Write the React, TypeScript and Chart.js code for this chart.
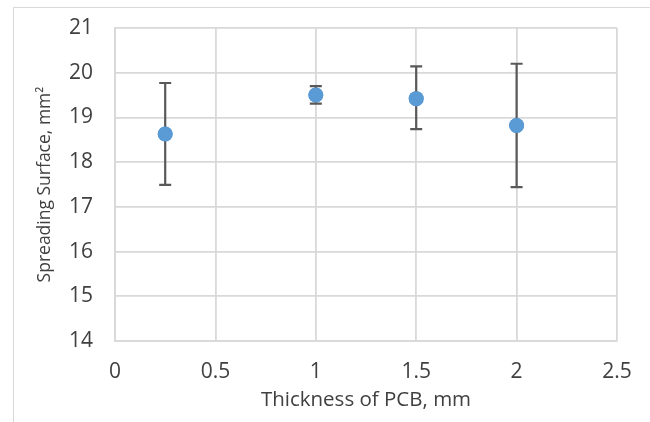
import React, { useEffect, useRef } from "react";
import { Chart, registerables } from "chart.js";

Chart.register(...registerables);

const thickness = [0.25, 1, 1.5, 2];
const surface = [18.63, 19.5, 19.42, 18.82];
const errPlus = [1.14, 0.2, 0.72, 1.38];
const errMinus = [1.14, 0.19, 0.68, 1.38];
const xTitle = "Thickness of PCB, mm";
const yTitle = "Spreading Surface, mm²";

const FONT = "'Open Sans', 'Noto Sans', sans-serif";

const errorBarPlugin = {
  id: "errorBars",
  afterDatasetsDraw(chart: any) {
    const { ctx, scales } = chart;
    const xs = scales.x;
    const ys = scales.y;
    ctx.save();
    ctx.strokeStyle = "#595959";
    ctx.lineWidth = 2.2;
    for (let i = 0; i < thickness.length; i++) {
      const px = xs.getPixelForValue(thickness[i]);
      const top = ys.getPixelForValue(surface[i] + errPlus[i]);
      const bot = ys.getPixelForValue(surface[i] - errMinus[i]);
      const cap = 6;
      ctx.beginPath();
      ctx.moveTo(px, top);
      ctx.lineTo(px, bot);
      ctx.moveTo(px - cap, top);
      ctx.lineTo(px + cap, top);
      ctx.moveTo(px - cap, bot);
      ctx.lineTo(px + cap, bot);
      ctx.stroke();
    }
    ctx.restore();
  },
};

const pointsOnTop = {
  id: "pointsOnTop",
  afterDraw(chart: any) {
    const meta = chart.getDatasetMeta(0);
    meta.data.forEach((el: any) => el.draw(chart.ctx, chart.chartArea));
  },
};

export default function App() {
  const ref = useRef<HTMLCanvasElement>(null);
  useEffect(() => {
    if (!ref.current) return;
    const chart = new Chart(ref.current, {
      type: "scatter",
      data: {
        datasets: [
          {
            data: thickness.map((x, i) => ({ x, y: surface[i] })),
            backgroundColor: "#5b9bd5",
            borderColor: "#5b9bd5",
            pointRadius: 7.5,
            pointHoverRadius: 7.5,
            borderWidth: 0,
          },
        ],
      },
      options: {
        responsive: false,
        animation: false,
        events: [],
        layout: { padding: { left: 31, right: 33, top: 28, bottom: 6 } },
        plugins: { legend: { display: false }, tooltip: { enabled: false } },
        scales: {
          x: {
            type: "linear",
            min: 0,
            max: 2.5,
            ticks: {
              stepSize: 0.5,
              color: "#404040",
              font: { family: FONT, size: 21 },
              padding: 18,
              callback: (v: any) => String(v),
            },
            grid: { color: "#d9d9d9", lineWidth: 1.8, drawTicks: false },
            border: { color: "#d9d9d9", width: 1.8 },
            title: { display: true, text: xTitle, color: "#404040", font: { family: FONT, size: 20.5 }, padding: { top: 4 } },
            afterFit(scale: any) {
              scale.height = 75;
              scale.paddingLeft = 0;
              scale.paddingRight = 0;
            },
          },
          y: {
            min: 14,
            max: 21,
            ticks: { stepSize: 1, color: "#404040", font: { family: FONT, size: 21 }, padding: 22 },
            grid: { color: "#d9d9d9", lineWidth: 1.8, drawTicks: false },
            border: { color: "#d9d9d9", width: 1.8 },
            title: { display: true, text: yTitle, color: "#404040", font: { family: FONT, size: 17.5 } },
            afterFit(scale: any) {
              scale.width = 84;
              scale.paddingTop = 0;
              scale.paddingBottom = 0;
            },
          },
        },
      },
      plugins: [errorBarPlugin, pointsOnTop],
    } as any);
    return () => chart.destroy();
  }, []);
  return (
    <div style={{ position: "fixed", left: 0, top: 0, width: 650, height: 422, background: "#fff", overflow: "hidden" }}>
      <div style={{ position: "absolute", left: 13, top: 7, width: 660, height: 440, border: "1px solid #d9d9d9" }} />
      <canvas ref={ref} width={650} height={422} style={{ position: "absolute", left: 0, top: 0 }} />
    </div>
  );
}
